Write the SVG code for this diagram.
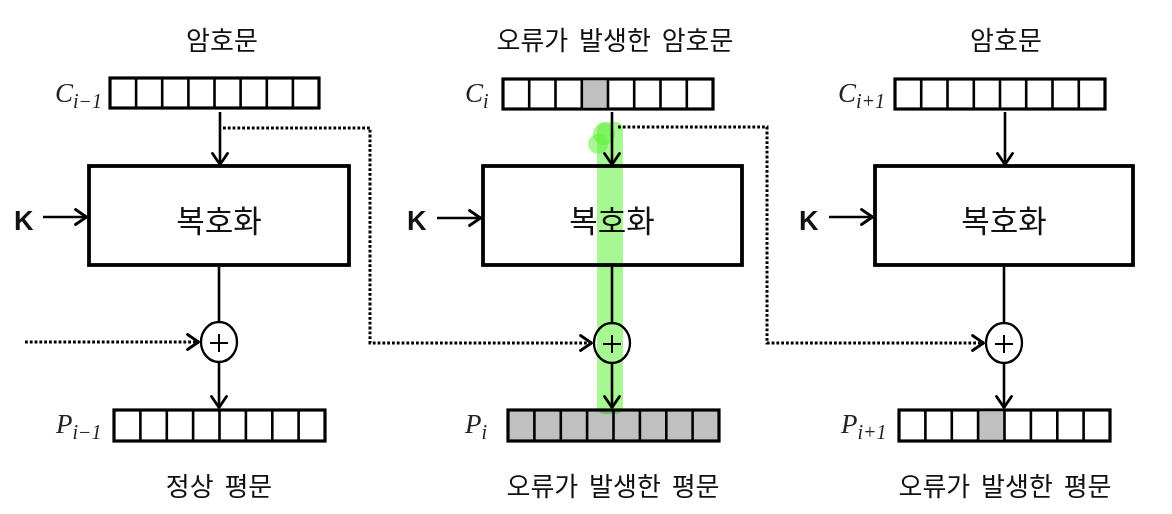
<svg xmlns="http://www.w3.org/2000/svg" width="1172" height="514" viewBox="0 0 1172 514">
<defs>
<marker id="ah" viewBox="0 0 14 18" refX="13" refY="9" markerWidth="14" markerHeight="18" markerUnits="userSpaceOnUse" orient="auto">
<path d="M1.5,1.5 L12.5,9 L1.5,16.5" fill="none" stroke="#000" stroke-width="2.8" stroke-linecap="round" stroke-linejoin="round"/>
</marker>
<style>
.lbl{font-family:"Noto Sans CJK KR","Noto Sans",sans-serif;font-size:26px;fill:#111;text-anchor:middle;word-spacing:5px}
.box{fill:#fff;stroke:#000;stroke-width:3.8}
.reg{fill:#fff;stroke:#000;stroke-width:3.2}
.div{stroke:#000;stroke-width:2.6}
.g{fill:#c0c0c0}
.k{font-family:"Liberation Sans","DejaVu Sans",sans-serif;font-weight:bold;font-size:27px;fill:#111}
.m{font-family:"Liberation Serif","DejaVu Serif",serif;font-style:italic;font-size:27px;fill:#222}
.sub{font-size:20px}
.ln{fill:none;stroke:#000;stroke-width:2.6}
.dot{fill:none;stroke:#000;stroke-width:3;stroke-dasharray:2.8 2}
.xor{fill:#fff;stroke:#000;stroke-width:2.3}
.plus{stroke:#000;stroke-width:2}
.hl{fill:#5ef03a;opacity:0.55}
</style>
</defs>

<!-- labels -->
<text class="lbl" x="222" y="50">암호문</text>
<text class="lbl" x="615" y="50">오류가 발생한 암호문</text>
<text class="lbl" x="1006" y="50">암호문</text>
<text class="lbl" x="219" y="496">정상 평문</text>
<text class="lbl" x="613" y="496">오류가 발생한 평문</text>
<text class="lbl" x="1005" y="496">오류가 발생한 평문</text>

<!-- left column -->
<g id="c-prev">
<text class="m" x="55" y="102">C<tspan class="sub" dy="6">i−1</tspan></text>
<rect class="reg" x="110" y="78" width="209" height="30"/>
<path class="div" d="M136.1,78V108M162.2,78V108M188.4,78V108M214.5,78V108M240.6,78V108M266.8,78V108M292.9,78V108"/>
</g>
<g id="dec-left">
<rect class="box" x="89" y="166" width="260" height="99"/>
<text class="lbl" x="219" y="232" style="font-size:31px">복호화</text>
</g>
<g id="k-left"><text class="k" x="14" y="230">K</text></g>
<g id="xor-left">
<ellipse class="xor" cx="219" cy="342" rx="18" ry="20"/>
<path class="plus" d="M210,343H228M219,334V352"/>
</g>
<g id="p-prev">
<text class="m" x="56" y="433">P<tspan class="sub" dy="6">i−1</tspan></text>
<rect class="reg" x="114" y="410" width="211" height="31"/>
<path class="div" d="M140.4,410V441M166.8,410V441M193.1,410V441M219.5,410V441M245.9,410V441M272.3,410V441M298.6,410V441"/>
</g>

<!-- middle column -->
<g id="c-cur">
<text class="m" x="465" y="102">C<tspan class="sub" dy="6">i</tspan></text>
<rect class="reg" x="503" y="79" width="210" height="30"/>
<rect class="g" x="582" y="80.5" width="25" height="27"/>
<path class="div" d="M529.2,79V109M555.5,79V109M581.8,79V109M608,79V109M634.2,79V109M660.5,79V109M686.8,79V109"/>
</g>
<g id="dec-mid">
<rect class="box" x="483" y="166" width="259" height="99"/>
<text class="lbl" x="612" y="232" style="font-size:31px">복호화</text>
</g>
<g id="k-mid"><text class="k" x="407" y="230">K</text></g>
<g id="xor-mid">
<ellipse class="xor" cx="612" cy="343" rx="18" ry="20"/>
<path class="plus" d="M603,344H621M612,335V353"/>
</g>
<g id="p-cur">
<text class="m" x="465" y="433">P<tspan class="sub" dy="6">i</tspan></text>
<rect class="g" x="508" y="410" width="211" height="31"/>
<rect x="508" y="410" width="211" height="31" fill="none" stroke="#000" stroke-width="3.2"/>
<path class="div" d="M534.4,410V441M560.8,410V441M587.1,410V441M613.5,410V441M639.9,410V441M666.3,410V441M692.6,410V441"/>
</g>

<!-- right column -->
<g id="c-next">
<text class="m" x="838" y="102">C<tspan class="sub" dy="6">i+1</tspan></text>
<rect class="reg" x="895" y="79" width="210" height="30"/>
<path class="div" d="M921.2,79V109M947.5,79V109M973.8,79V109M1000,79V109M1026.2,79V109M1052.5,79V109M1078.8,79V109"/>
</g>
<g id="dec-right">
<rect class="box" x="875" y="166" width="258" height="99"/>
<text class="lbl" x="1004" y="232" style="font-size:31px">복호화</text>
</g>
<g id="k-right"><text class="k" x="799" y="230">K</text></g>
<g id="xor-right">
<ellipse class="xor" cx="1004" cy="343" rx="18" ry="20"/>
<path class="plus" d="M995,344H1013M1004,335V353"/>
</g>
<g id="p-next">
<text class="m" x="841" y="433">P<tspan class="sub" dy="6">i+1</tspan></text>
<rect class="reg" x="899" y="410" width="211" height="31"/>
<rect class="g" x="979" y="411.5" width="25" height="28"/>
<path class="div" d="M925.4,410V441M951.8,410V441M978.1,410V441M1004.5,410V441M1030.9,410V441M1057.3,410V441M1083.6,410V441"/>
</g>

<!-- connectors -->
<g id="connectors">
<path class="ln" d="M220,112V165" marker-end="url(#ah)"/>
<path class="ln" d="M43,217H87" marker-end="url(#ah)"/>
<path class="ln" d="M219,267V322"/>
<path class="ln" d="M219,362V408" marker-end="url(#ah)"/>
<path class="dot" d="M25,342H199"/>
<path class="ln" d="M190,342H199" marker-end="url(#ah)" style="stroke:none"/>

<path class="ln" d="M612,112V165" marker-end="url(#ah)"/>
<path class="ln" d="M437,218H481" marker-end="url(#ah)"/>
<path class="ln" d="M612,267V323"/>
<path class="ln" d="M612,363V408" marker-end="url(#ah)"/>

<path class="ln" d="M1005,112V165" marker-end="url(#ah)"/>
<path class="ln" d="M829,217H873" marker-end="url(#ah)"/>
<path class="ln" d="M1004,267V323"/>
<path class="ln" d="M1004,363V408" marker-end="url(#ah)"/>

<path class="dot" d="M223,128H370V343H592"/>
<path class="ln" d="M585,343H592" marker-end="url(#ah)" style="stroke:none"/>
<path class="dot" d="M618,127H767V343H984"/>
<path class="ln" d="M977,343H984" marker-end="url(#ah)" style="stroke:none"/>
</g>

<!-- error propagation highlight -->
<g id="highlight" style="mix-blend-mode:multiply">
<rect class="hl" x="597" y="122" width="26" height="292" rx="7"/>
<circle class="hl" cx="604" cy="134" r="11"/>
<circle class="hl" cx="598" cy="144" r="10"/>
</g>
</svg>
